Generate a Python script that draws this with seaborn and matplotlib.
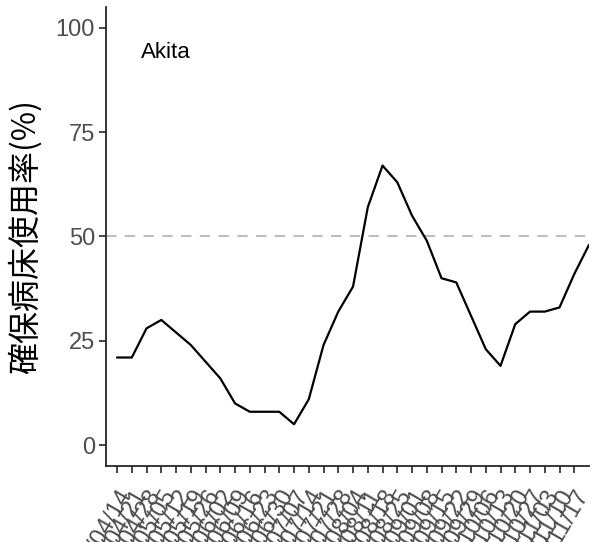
import pandas as pd
import matplotlib
matplotlib.use("Agg")
import matplotlib.pyplot as plt
import seaborn as sns

# weekly bed occupancy, Akita
dates = pd.date_range("2021-04-14", periods=33, freq="7D")
occupancy = [21, 21, 28, 30, 27, 24, 20, 16, 10, 8, 8, 8, 5, 11, 24, 32, 38,
             57, 67, 63, 55, 49, 40, 39, 31, 23, 19, 29, 32, 32, 33, 41, 48]
tick_labels = [d.strftime("%Y/%m/%d") for d in dates[:32]]
region = "Akita"
ylabel = "確保病床使用率(%)"

df = pd.DataFrame({"x": range(len(occupancy)), "occupancy": occupancy})

sns.set_style("ticks")
plt.rcParams["font.family"] = ["Liberation Sans", "DejaVu Sans"]

fig = plt.figure(figsize=(5.94, 5.42), dpi=100)
ax = fig.add_axes([106 / 594, 76 / 542, 483 / 594, 459 / 542])

ax.axhline(50, color="#bebebe", lw=1.5, ls=(0, (5, 4)), zorder=1)
sns.lineplot(data=df, x="x", y="occupancy", color="black", lw=1.6, ax=ax)

ax.text(1.6, 94, region, fontsize=16, color="black", va="center", ha="left")

ax.set_xlim(-0.75, 32)
ax.set_ylim(-5, 105)
ax.set_yticks([0, 25, 50, 75, 100])
ax.set_xticks(range(len(tick_labels)))
ax.set_xticklabels(tick_labels, rotation=60, ha="right", rotation_mode="anchor",
                   color="#4d4d4d", fontsize=17)
ax.tick_params(axis="y", labelsize=17, labelcolor="#4d4d4d", length=5, width=1.2, pad=3)
ax.tick_params(axis="x", length=5, width=1.2, pad=9)
ax.set_xlabel("")
ax.set_ylabel(ylabel, fontsize=23, color="black",
              family=["Noto Sans CJK JP", "DejaVu Sans"])
ax.yaxis.set_label_coords(-64 / 483, 0.5)
for s in ["left", "bottom"]:
    ax.spines[s].set_linewidth(1.3)
sns.despine(ax=ax)

fig.savefig("out.png", dpi=100)
